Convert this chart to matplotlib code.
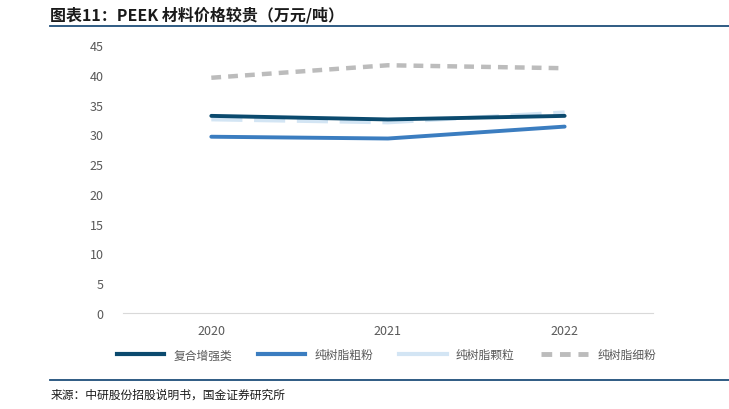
import matplotlib
matplotlib.use("Agg")
import matplotlib.pyplot as plt
from matplotlib.lines import Line2D

plt.rcParams['font.family'] = ['Noto Sans CJK SC', 'DejaVu Sans']

# data
years = ['2020', '2021', '2022']
composite = [33.1, 32.5, 33.1]      # 复合增强类
resin_coarse = [29.6, 29.3, 31.3]   # 纯树脂粗粉
resin_pellet = [32.5, 32.0, 33.7]   # 纯树脂颗粒
resin_fine = [39.5, 41.6, 41.1]     # 纯树脂细粉
yticks = [0, 5, 10, 15, 20, 25, 30, 35, 40, 45]

fig = plt.figure(figsize=(7.29, 4.10), dpi=100)
ax = fig.add_axes([0.1687, 0.2341, 0.727, 0.6537])

x = range(len(years))
ax.plot(x, composite, color='#0b4a6e', lw=2.8, solid_capstyle='round', zorder=4)
ax.plot(x, resin_coarse, color='#3b7dc0', lw=2.8, solid_capstyle='round', zorder=3)
ax.plot(x, resin_pellet, color='#d3e5f4', lw=2.8, dashes=(8, 3), zorder=2)
ax.plot(x, resin_fine, color='#bcbcbc', lw=3.2, dashes=(2.2, 1.6), zorder=1)

ax.set_xlim(-0.5, 2.5)
ax.set_ylim(0, 45)
ax.set_yticks(yticks)
ax.set_xticks(list(x))
ax.set_xticklabels(years)
for s in ['top', 'right', 'left']:
    ax.spines[s].set_visible(False)
ax.spines['bottom'].set_color('#d9d9d9')
ax.tick_params(axis='both', length=0, labelsize=9, colors='#595959', pad=8)
ax.tick_params(axis='y', pad=14)

# legend
handles = [
    Line2D([], [], color='#0b4a6e', lw=3),
    Line2D([], [], color='#3b7dc0', lw=3),
    Line2D([], [], color='#d3e5f4', lw=3),
    Line2D([], [], color='#bcbcbc', lw=3.5, dashes=(2.2, 1.6)),
]
labels = ['复合增强类', '纯树脂粗粉', '纯树脂颗粒', '纯树脂细粉']
leg = fig.legend(handles, labels, loc='center', bbox_to_anchor=(0.53, 0.132),
                 ncol=4, frameon=False, fontsize=8.5, handlelength=4,
                 columnspacing=2.2, handletextpad=0.8)
for t in leg.get_texts():
    t.set_color('#595959')

# title and footer
fig.text(0.069, 0.962, '图表11：PEEK 材料价格较贵（万元/吨）', fontsize=11.5,
         fontweight='bold', style='italic', va='center', color='#1a1a1a')
fig.add_artist(Line2D([0.069, 1.0], [0.934, 0.934], color='#1f4e79', lw=1.3))
fig.add_artist(Line2D([0.069, 1.0], [0.071, 0.071], color='#1f4e79', lw=1.3))
fig.text(0.069, 0.036, '来源：中研股份招股说明书，国金证券研究所', fontsize=8.5,
         va='center', color='#1a1a1a')

fig.savefig('out.png', dpi=100)
